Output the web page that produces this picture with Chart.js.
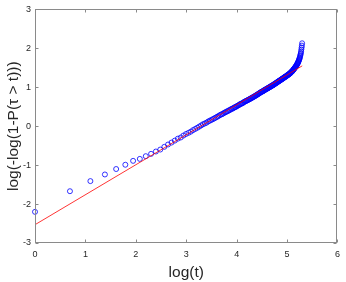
<!DOCTYPE html>
<html>
<head>
<meta charset="utf-8">
<script src="https://cdn.jsdelivr.net/npm/chart.js@4"></script>
<style>
  html, body { margin: 0; padding: 0; background: #fff; }
  #wrap { width: 346px; height: 282px; }
</style>
</head>
<body>
<div id="wrap"><canvas id="chart"></canvas></div>
<script>
// empirical values, one per t = 1, 2, 3, ... (x axis is log(t))
const EMP_Y = [
  -2.20, -1.67, -1.41, -1.24, -1.10, -0.99, -0.89, -0.84, -0.77, -0.71,
  -0.65, -0.60, -0.53, -0.47, -0.42, -0.37, -0.32, -0.29, -0.24, -0.20,
  -0.17, -0.14, -0.10, -0.07, -0.04, -0.01, 0.02, 0.05, 0.07, 0.09,
  0.12, 0.14, 0.16, 0.18, 0.20, 0.22, 0.24, 0.26, 0.28, 0.30,
  0.31, 0.33, 0.35, 0.36, 0.38, 0.39, 0.41, 0.42, 0.44, 0.45,
  0.46, 0.48, 0.49, 0.50, 0.52, 0.53, 0.54, 0.56, 0.57, 0.58,
  0.59, 0.60, 0.62, 0.63, 0.64, 0.65, 0.66, 0.67, 0.68, 0.69,
  0.70, 0.71, 0.72, 0.73, 0.74, 0.75, 0.76, 0.77, 0.78, 0.79,
  0.80, 0.81, 0.82, 0.83, 0.84, 0.85, 0.86, 0.87, 0.88, 0.89,
  0.89, 0.90, 0.91, 0.92, 0.93, 0.94, 0.94, 0.95, 0.96, 0.97,
  0.97, 0.98, 0.99, 1.00, 1.00, 1.01, 1.02, 1.03, 1.03, 1.04,
  1.05, 1.05, 1.06, 1.07, 1.08, 1.08, 1.09, 1.10, 1.11, 1.11,
  1.12, 1.13, 1.14, 1.14, 1.15, 1.16, 1.16, 1.17, 1.18, 1.18,
  1.19, 1.20, 1.20, 1.21, 1.22, 1.22, 1.23, 1.24, 1.24, 1.25,
  1.26, 1.26, 1.27, 1.27, 1.28, 1.29, 1.29, 1.30, 1.31, 1.31,
  1.32, 1.32, 1.33, 1.34, 1.34, 1.35, 1.36, 1.36, 1.37, 1.38,
  1.39, 1.40, 1.40, 1.41, 1.42, 1.43, 1.44, 1.45, 1.46, 1.47,
  1.48, 1.49, 1.50, 1.51, 1.52, 1.53, 1.54, 1.55, 1.56, 1.58,
  1.59, 1.60, 1.62, 1.63, 1.65, 1.66, 1.68, 1.70, 1.72, 1.74,
  1.76, 1.79, 1.82, 1.85, 1.88, 1.92, 1.97, 2.02, 2.07, 2.13
];

// fitted line end points
const FIT_X = [0, 5.3];
const FIT_Y = [-2.53, 1.55];

const X_TICKS = [0, 1, 2, 3, 4, 5, 6];
const Y_TICKS = [-3, -2, -1, 0, 1, 2, 3];

const FONT = "'Liberation Sans', Arial, Helvetica, sans-serif";

const empPoints = EMP_Y.map((v, i) => ({ x: Math.log(i + 1), y: v }));
const fitPoints = FIT_X.map((v, i) => ({ x: v, y: FIT_Y[i] }));

// matlab style box with inward ticks on all four sides
const boxAxes = {
  id: 'boxAxes',
  afterDraw(chart) {
    const { ctx, chartArea: a, scales: { x, y } } = chart;
    const L = Math.round(a.left) + 0.5, R = Math.round(a.right) - 0.5;
    const T = Math.round(a.top) + 0.5, B = Math.round(a.bottom) - 0.5;
    const tl = 3;
    ctx.save();
    ctx.strokeStyle = '#8a8a8a';
    ctx.lineWidth = 1;
    ctx.strokeRect(L, T, R - L, B - T);
    ctx.beginPath();
    X_TICKS.forEach(v => {
      const px = Math.round(x.getPixelForValue(v)) + 0.5;
      ctx.moveTo(px, B); ctx.lineTo(px, B - tl);
      ctx.moveTo(px, T); ctx.lineTo(px, T + tl);
    });
    Y_TICKS.forEach(v => {
      const py = Math.round(y.getPixelForValue(v)) + 0.5;
      ctx.moveTo(L, py); ctx.lineTo(L + tl, py);
      ctx.moveTo(R, py); ctx.lineTo(R - tl, py);
    });
    ctx.stroke();
    ctx.restore();
  }
};

const ctx = document.getElementById('chart').getContext('2d');
new Chart(ctx, {
  type: 'scatter',
  data: {
    datasets: [
      {
        label: 'fit',
        type: 'line',
        data: fitPoints,
        borderColor: '#ff0000',
        borderWidth: 0.8,
        pointRadius: 0,
        fill: false,
        tension: 0,
        order: 0
      },
      {
        label: 'empirical',
        data: empPoints,
        clip: false,
        pointStyle: 'circle',
        pointRadius: 2.5,
        pointBorderWidth: 0.8,
        pointBorderColor: '#0000ff',
        pointBackgroundColor: 'rgba(0,0,0,0)',
        order: 1
      }
    ]
  },
  options: {
    responsive: true,
    maintainAspectRatio: false,
    animation: false,
    layout: { padding: { left: 0, right: 4, top: 6, bottom: 0 } },
    plugins: {
      legend: { display: false },
      tooltip: { enabled: false }
    },
    scales: {
      x: {
        type: 'linear',
        min: 0,
        max: 6,
        afterBuildTicks: s => { s.ticks = X_TICKS.map(v => ({ value: v })); },
        afterFit: s => { s.height = 39; },
        grid: { display: false, drawTicks: false },
        border: { display: false },
        ticks: {
          padding: 6,
          maxRotation: 0,
          color: '#262626',
          font: { family: FONT, size: 9 }
        },
        title: {
          display: true,
          text: 'log(t)',
          color: '#262626',
          font: { family: FONT, size: 15.5 },
          padding: { top: 0, bottom: 0 }
        }
      },
      y: {
        type: 'linear',
        min: -3,
        max: 3,
        afterBuildTicks: s => { s.ticks = Y_TICKS.map(v => ({ value: v })); },
        afterFit: s => { s.width = 35; },
        grid: { display: false, drawTicks: false },
        border: { display: false },
        ticks: {
          padding: 4,
          color: '#262626',
          font: { family: FONT, size: 9 }
        },
        title: {
          display: true,
          text: 'log(-log(1-P(τ > t)))',
          color: '#262626',
          font: { family: FONT, size: 15.5 },
          padding: { top: 4.5, bottom: 0 }
        }
      }
    }
  },
  plugins: [boxAxes]
});
</script>
</body>
</html>
